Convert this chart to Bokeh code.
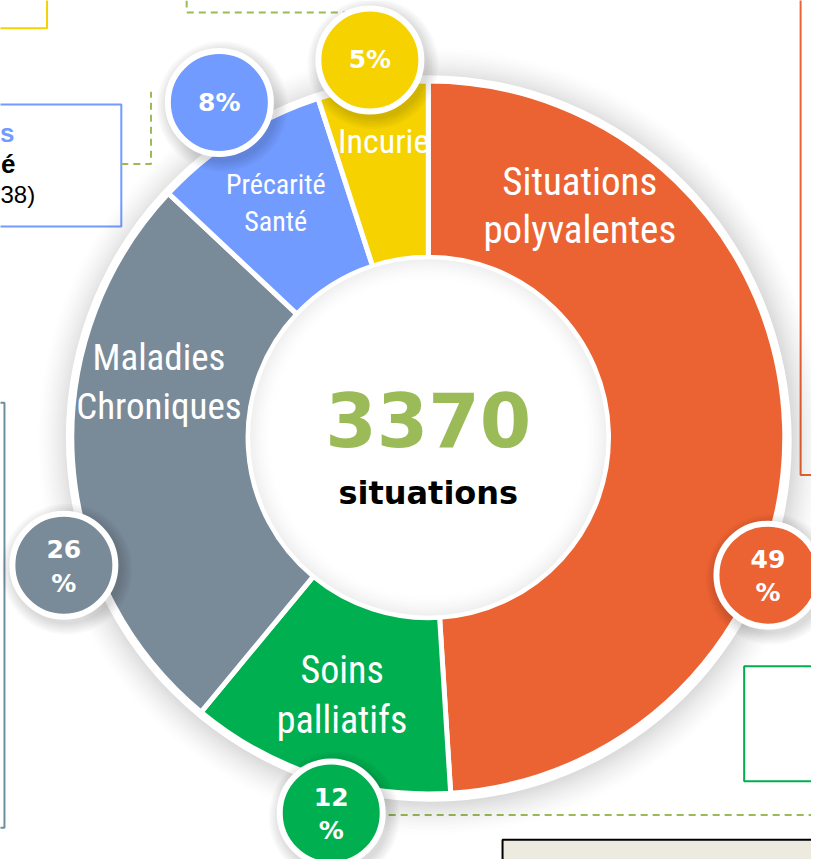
import math
from bokeh.plotting import figure
from bokeh.models import Range1d, ColumnDataSource
from bokeh.core.properties import value
from bokeh.embed import file_html
from bokeh.resources import INLINE

# ---- data ----
categories = ["Situations polyvalentes", "Soins palliatifs", "Maladies Chroniques", "Précarité Santé", "Incurie"]
label_lines = [["Situations", "polyvalentes"], ["Soins", "palliatifs"], ["Maladies", "Chroniques"], ["Précarité", "Santé"], ["Incurie"]]
percentages = [49, 12, 26, 8, 5]
colors = ["#EC6333", "#00AF50", "#798A99", "#729BFF", "#F5D200"]
total_situations = 3370
center_label = "situations"

# ---- layout (reference pixel coordinates, y measured from top) ----
W, H = 811, 859
REF_W, REF_H = 819, 867
def Y(py):
    return REF_H - py

CX, CY = 432, 441
R_OUT, R_IN = 360, 182
label_pos = [[(585, 183), (585, 232)], [(345, 676), (345, 726)], [(160, 360), (160, 410)],
             [(278, 186), (278, 223)], [(387, 142)]]
label_size = ["39px", "38px", "37px", "28px", "34px"]
badge_pos = [(775, 580), (334, 820), (64, 570), (221, 103), (373, 60)]
BADGE_R = 52

COND = value("'Roboto Condensed', 'DejaVu Sans Condensed', 'Liberation Sans Narrow', 'Arial Narrow', sans-serif")
BOLD = value("DejaVu Sans")
SANS = value("Liberation Sans")

p = figure(width=W, height=H, x_range=Range1d(0, REF_W), y_range=Range1d(0, REF_H),
           output_backend="svg", toolbar_location=None, min_border=0)
p.axis.visible = False
p.grid.visible = False
p.outline_line_color = None
p.background_fill_color = "white"
p.border_fill_color = "white"

# ---- background decorations (cropped boxes / dashed connectors) ----
GREEN_D = "#9BBB59"
p.quad(left=-10, right=47, top=Y(-10), bottom=Y(28), fill_color=None, line_color="#F5D200", line_width=2)
p.line(x=[188, 188, 373], y=[Y(0), Y(12), Y(12)], line_color=GREEN_D, line_width=2, line_dash="7 5")
p.quad(left=-10, right=122, top=Y(105), bottom=Y(228), fill_color="white", line_color="#729BFF", line_width=2)
p.quad(left=-10, right=4, top=Y(406), bottom=Y(835), fill_color=None, line_color="#6E8FA0", line_width=2)
p.line(x=[122, 152, 152], y=[Y(165), Y(165), Y(92)], line_color=GREEN_D, line_width=2, line_dash="7 5")
p.text(x=[14], y=[Y(134)], text=["s"], text_color="#729BFF", text_font=SANS, text_font_style="bold",
       text_font_size="26px", text_align="right", text_baseline="middle")
p.text(x=[15], y=[Y(165)], text=["é"], text_color="black", text_font=SANS, text_font_style="bold",
       text_font_size="26px", text_align="right", text_baseline="middle")
p.text(x=[0], y=[Y(196)], text=["38)"], text_color="black", text_font=SANS,
       text_font_size="24px", text_align="left", text_baseline="middle")
p.quad(left=808, right=830, top=Y(-10), bottom=Y(479), fill_color=None, line_color="#EC6333", line_width=2)
p.quad(left=751, right=830, top=Y(672), bottom=Y(788), fill_color=None, line_color="#00AF50", line_width=2)
p.line(x=[392, 830], y=[Y(822), Y(822)], line_color=GREEN_D, line_width=2, line_dash="7 5")
p.quad(left=507, right=830, top=Y(847), bottom=Y(880), fill_color="#EDEAE0", line_color="black", line_width=2)

# ---- donut shadow ----
for k in range(0, 36, 2):
    a = 0.14 * (1 - k / 36) ** 1.6
    p.annulus(x=CX + 3, y=Y(CY) - 4, inner_radius=R_OUT + 4 + k, outer_radius=R_OUT + 6 + k,
              fill_color="black", fill_alpha=a, line_color=None)
p.annulus(x=CX, y=Y(CY), inner_radius=R_OUT - 2, outer_radius=R_OUT + 6, fill_color="white", line_color=None)

# ---- donut ----
starts, ends, cum = [], [], 0
total_pct = sum(percentages)
for v in percentages:
    starts.append(math.pi / 2 - 2 * math.pi * cum / total_pct)
    cum += v
    ends.append(math.pi / 2 - 2 * math.pi * cum / total_pct)
src = ColumnDataSource(dict(start=starts, end=ends, color=colors, name=categories))
p.annular_wedge(x=CX, y=Y(CY), inner_radius=R_IN, outer_radius=R_OUT, start_angle="start", end_angle="end",
                direction="clock", fill_color="color", line_color="white", line_width=5, source=src)

# inner white disc with soft inner shadow
p.circle(x=CX, y=Y(CY), radius=R_IN - 2, fill_color="white", line_color=None)
for k in range(0, 26, 2):
    a = 0.06 * (1 - k / 26) ** 2
    p.annulus(x=CX, y=Y(CY), inner_radius=R_IN - 4 - k, outer_radius=R_IN - 2 - k,
              fill_color="black", fill_alpha=a, line_color=None)

# slice labels
lx, ly, lt, ls = [], [], [], []
for lines, pos, sz in zip(label_lines, label_pos, label_size):
    for t, (x, y) in zip(lines, pos):
        lx.append(x); ly.append(Y(y)); lt.append(t); ls.append(sz)
p.text(x=lx, y=ly, text=lt, text_font_size=ls, text_color="white", text_font=COND,
       text_align="center", text_baseline="middle")

# center text
p.text(x=[CX], y=[Y(423)], text=[str(total_situations)], text_color="#9BBB59", text_font=BOLD,
       text_font_style="bold", text_font_size="74px", text_align="center", text_baseline="middle")
p.text(x=[CX], y=[Y(497)], text=[center_label], text_color="black", text_font=BOLD,
       text_font_style="bold", text_font_size="32px", text_align="center", text_baseline="middle")

# ---- percentage badges ----
bx = [b[0] for b in badge_pos]
by = [Y(b[1]) for b in badge_pos]
for k in range(0, 12, 2):
    p.circle(x=[x + 3 for x in bx], y=[y - 4 for y in by], radius=BADGE_R + 4 + k, fill_color="black",
             fill_alpha=0.025, line_color=None)
p.circle(x=bx, y=by, radius=BADGE_R, fill_color=colors, line_color="white", line_width=6)
tx, ty, tt = [], [], []
for v, (x, y) in zip(percentages, badge_pos):
    if v >= 10:
        tx += [x, x]; ty += [Y(y - 16), Y(y + 18)]; tt += [str(v), "%"]
    else:
        tx.append(x); ty.append(Y(y)); tt.append(f"{v}%")
p.text(x=tx, y=ty, text=tt, text_color="white", text_font=BOLD, text_font_style="bold",
       text_font_size="25px", text_align="center", text_baseline="middle")

open("out.html", "w").write(file_html(p, INLINE))
